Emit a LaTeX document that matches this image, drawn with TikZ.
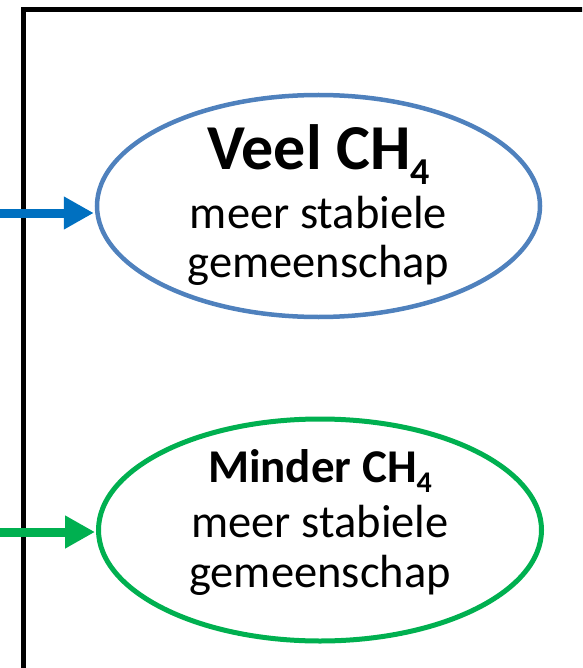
\documentclass[tikz,border=0pt]{standalone}
\usepackage{fontspec}
\setmainfont{Carlito}
\usetikzlibrary{shapes.geometric,arrows.meta}
\definecolor{ringblue}{HTML}{4F81BD}
\definecolor{arrowblue}{HTML}{0070C0}
\definecolor{ringgreen}{HTML}{00B050}
\tikzset{
  frameline/.style={line width=5pt, line cap=rect},
  ring/.style={ellipse, draw, inner sep=0pt, minimum width=443pt, minimum height=222pt},
  feed/.style={line width=9pt, -{Triangle[length=30pt,width=31pt]}, shorten >=1pt},
  head/.style={anchor=base, font=\fontsize{64}{64}\selectfont\bfseries, inner sep=0pt},
  headsmall/.style={anchor=base, font=\fontsize{47}{47}\selectfont\bfseries, inner sep=0pt},
  body/.style={anchor=base, font=\fontsize{46.5}{46.5}\selectfont, inner sep=0pt}
}
\newcommand{\subfour}[2]{\raisebox{-#2pt}{\fontsize{#1}{#1}\selectfont 4}}
\begin{document}
\begin{tikzpicture}[x=1pt, y=-1pt]
  \useasboundingbox (0,0) rectangle (582,668);
  \clip (0,0) rectangle (582,668);

  % outer frame, open to the right and bottom
  \draw[frameline] (23.5,700) -- (23.5,10) -- (620,10);

  % upper ellipse
  \node[ring, draw=ringblue, line width=4.5pt] (veel) at (318.5,206) {};
  \node[head] (veelhead) at (318.5,170) {Veel CH\subfour{38}{15}};
  \node[body] (veelline1) at (318.5,228) {meer stabiele};
  \node[body] (veelline2) at (318.5,277) {gemeenschap};

  % lower ellipse
  \node[ring, draw=ringgreen, line width=5pt] (minder) at (320,530) {};
  \node[headsmall] (minderhead) at (320,482) {Minder CH\subfour{30}{10}};
  \node[body] (minderline1) at (320,537) {meer stabiele};
  \node[body] (minderline2) at (320,587) {gemeenschap};

  % incoming arrows
  \coordinate (bluein) at (-5,213);
  \coordinate (greenin) at (-5,532);
  \draw[feed, draw=arrowblue, fill=arrowblue] (bluein) -- (bluein -| veel.west);
  \draw[feed, draw=ringgreen, fill=ringgreen] (greenin) -- (greenin -| minder.west);
\end{tikzpicture}
\end{document}
